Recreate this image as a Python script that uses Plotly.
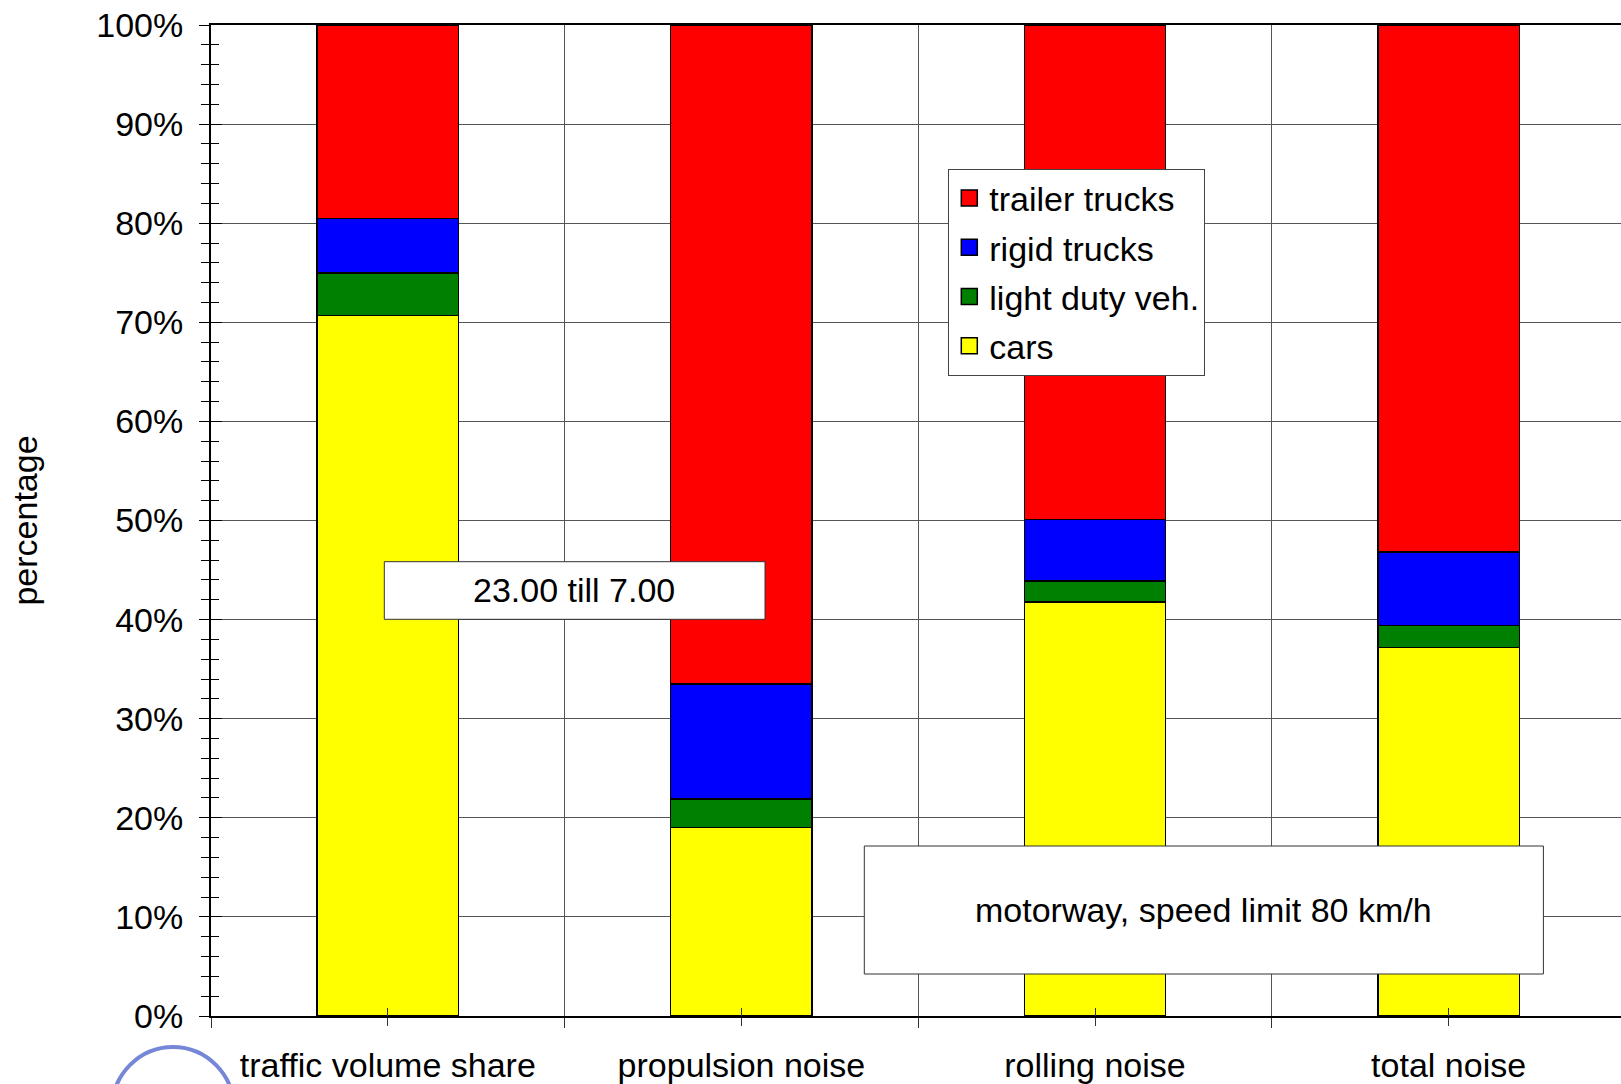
import plotly.graph_objects as go

# Share of each vehicle class, night-time period, per quantity (percent)
categories = ["traffic volume share", "propulsion noise", "rolling noise", "total noise"]
cars = [70.7, 19.0, 41.8, 37.2]
light_duty = [4.3, 2.9, 2.1, 2.2]
rigid_trucks = [5.5, 11.6, 6.2, 7.4]
trailer_trucks = [19.5, 66.5, 49.9, 53.2]

series = [
    ("cars", cars, "#ffff00"),
    ("light duty veh.", light_duty, "#008000"),
    ("rigid trucks", rigid_trucks, "#0000ff"),
    ("trailer trucks", trailer_trucks, "#ff0000"),
]

FONT = "Liberation Sans, Arial, sans-serif"
W, H = 1621, 1084
L, R, T, B = 211, 0, 25, 68
PW, PH = W - L - R, H - T - B


def px(x):
    return (x - L) / PW


def py(y):
    return (H - B - y) / PH


x_pos = list(range(len(categories)))

fig = go.Figure()
for name, vals, color in series:
    fig.add_trace(go.Bar(
        x=x_pos, y=vals, name=name, showlegend=False,
        marker=dict(color=color, line=dict(color="black", width=1.5)),
        hoverinfo="y+name",
    ))

# legend swatches (larger squares than the bar defaults), one group each,
# listed top-down in the same order as the stack from top to bottom
for name, vals, color in reversed(series):
    fig.add_trace(go.Scatter(
        x=[None], y=[None], name=name, mode="markers",
        xaxis="x2", yaxis="y2", legendgroup=name,
        marker=dict(symbol="square", size=22, color=color,
                    line=dict(color="black", width=1.5)),
    ))

x_range = [-0.5, -0.5 + PW / 353.6]

fig.update_layout(
    width=W, height=H,
    margin=dict(l=L, r=R, t=T, b=B, pad=0, autoexpand=False),
    plot_bgcolor="white", paper_bgcolor="white",
    barmode="stack", bargap=0.6,
    font=dict(family=FONT, size=34, color="black"),
    xaxis=dict(
        range=x_range, tickmode="array", tickvals=x_pos, ticktext=categories,
        ticks="outside", ticklen=8, tickwidth=1, tickcolor="#333",
        showgrid=False, zeroline=False, automargin=False,
        showline=True, linecolor="black", linewidth=2, mirror=True,
        ticklabelstandoff=10,
        minor=dict(tick0=0.5, dtick=1, ticks="outside", ticklen=10,
                   tickwidth=1, tickcolor="#333", showgrid=True,
                   gridcolor="#555", gridwidth=1),
    ),
    yaxis=dict(
        range=[0, 100], dtick=10, ticksuffix="%",
        ticks="outside", ticklen=10, tickwidth=1, tickcolor="black",
        showgrid=True, gridcolor="#555", gridwidth=1, zeroline=False,
        showline=True, linecolor="black", linewidth=2, automargin=False,
        ticklabelstandoff=9,
        minor=dict(dtick=2, ticks="outside", ticklen=8, tickwidth=1,
                   tickcolor="black", showgrid=False),
        title=dict(text="percentage", standoff=48,
                   font=dict(family=FONT, size=34)),
    ),
    # overlay axes supply the inner halves of the crossing tick marks
    xaxis2=dict(
        overlaying="x", anchor="y2", range=x_range, tickmode="array",
        tickvals=x_pos, ticks="inside", ticklen=8, tickwidth=1, tickcolor="#333",
        showticklabels=False, showgrid=False, zeroline=False, showline=False,
    ),
    yaxis2=dict(
        overlaying="y", anchor="x2", range=[0, 100], dtick=10,
        ticks="inside", ticklen=11, tickwidth=1, tickcolor="black",
        showticklabels=False, showgrid=False, zeroline=False, showline=False,
        minor=dict(dtick=2, ticks="inside", ticklen=8, tickwidth=1,
                   tickcolor="black", showgrid=False),
    ),
    legend=dict(
        x=px(948.3), y=py(168.5), xanchor="left", yanchor="top",
        bgcolor="white", bordercolor="#444", borderwidth=1,
        font=dict(family=FONT, size=34, color="black"),
        traceorder="grouped", tracegroupgap=2, itemwidth=30,
    ),
    showlegend=True,
)

# text boxes
boxes = [
    ("23.00 till 7.00", (384.3, 561.7, 765.0, 619.3), (574.2, 590.0)),
    ("motorway, speed limit 80 km/h", (864.3, 846.0, 1543.4, 974.0), (1203.9, 909.7)),
]
for text, (x0, y0, x1, y1), (tx, ty) in boxes:
    fig.add_shape(type="rect", xref="paper", yref="paper",
                  x0=px(x0), x1=px(x1), y0=py(y1), y1=py(y0),
                  line=dict(color="#333", width=1), fillcolor="white",
                  layer="above")
    fig.add_annotation(text=text, xref="paper", yref="paper",
                       x=px(tx), y=py(ty), showarrow=False,
                       xanchor="center", yanchor="middle",
                       font=dict(family=FONT, size=34, color="black"))

# partial ring emblem in the lower-left corner
fig.add_shape(type="circle", xref="paper", yref="paper",
              x0=px(112), x1=px(234), y0=py(1171), y1=py(1047),
              line=dict(color="rgba(85,105,205,0.8)", width=4),
              fillcolor="rgba(0,0,0,0)", layer="above")

fig.write_html("out.html")
